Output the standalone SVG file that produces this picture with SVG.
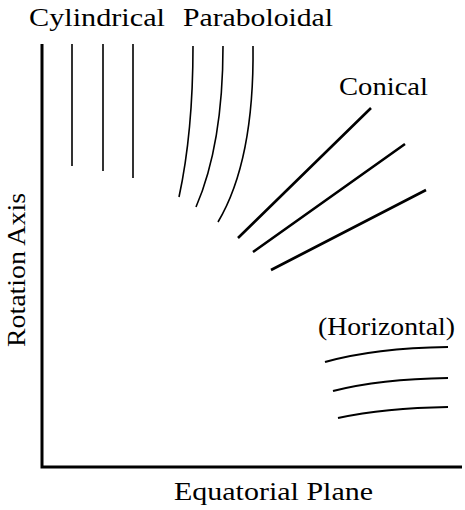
<svg xmlns="http://www.w3.org/2000/svg" width="465" height="510" viewBox="0 0 465 510">
<style>
text{font-family:"Liberation Serif","DejaVu Serif",serif;font-size:25px;fill:#000}
.thin{fill:none;stroke:#000;stroke-width:1.6}
.mid{fill:none;stroke:#000;stroke-width:2.2}
.thick{fill:none;stroke:#000;stroke-width:2.6}
.axis{fill:none;stroke:#000;stroke-width:3}
</style>
<rect width="465" height="510" fill="#fff"/>
<g id="axes">
<path class="axis" d="M42,44 V467 H462"/>
</g>
<g id="labels">
<text x="29" y="26" textLength="136" lengthAdjust="spacingAndGlyphs">Cylindrical</text>
<text x="183" y="26" textLength="150" lengthAdjust="spacingAndGlyphs">Paraboloidal</text>
<text x="339" y="95" textLength="89" lengthAdjust="spacingAndGlyphs">Conical</text>
<text x="318" y="335" textLength="137" lengthAdjust="spacingAndGlyphs">(Horizontal)</text>
<text x="174" y="500" textLength="199" lengthAdjust="spacingAndGlyphs">Equatorial Plane</text>
<text transform="translate(25,347) rotate(-90)" textLength="154" lengthAdjust="spacingAndGlyphs">Rotation Axis</text>
</g>
<g id="cylindrical">
<path class="thin" d="M72,44 V166 M103,44 V171 M133,44 V178"/>
</g>
<g id="paraboloidal">
<path class="thin" d="M193,46 C193,110 187,160 179,197"/>
<path class="thin" d="M223,46 C223,120 212,170 196,207"/>
<path class="thin" d="M253,46 C254,130 240,185 218,222"/>
</g>
<g id="conical">
<path class="thick" d="M371,108 L238,238 M405,144 L253,252 M426,190 L271,270"/>
</g>
<g id="horizontal">
<path class="mid" d="M325,362 Q375,348 448,347"/>
<path class="mid" d="M333,391 Q380,379 448,378"/>
<path class="mid" d="M338,418 Q385,408 448,407"/>
</g>
</svg>
